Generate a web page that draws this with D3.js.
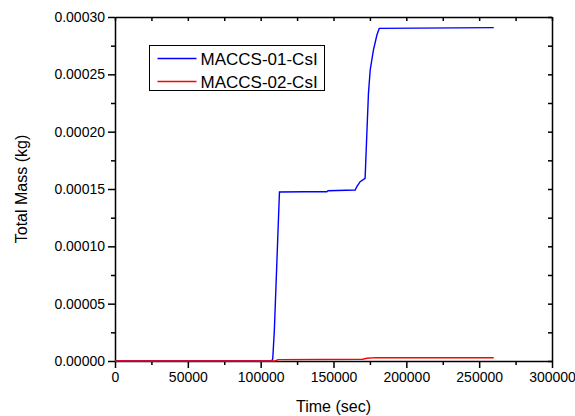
<!DOCTYPE html>
<html>
<head>
<meta charset="utf-8">
<script src="https://cdn.jsdelivr.net/npm/d3@7"></script>
<style>
  html, body { margin: 0; padding: 0; background: #fff; }
  svg { display: block; font-family: 'Liberation Sans', Arial, sans-serif; }
  .axis path, .axis line { stroke: #000; stroke-width: 1.5; }
  .axis text { font-size: 14px; fill: #000; }
</style>
</head>
<body>
<svg id="chart" width="575" height="416"></svg>
<script>
// ── DATA ────────────────────────────────────────────────────────────────
const seriesNames = ['MACCS-01-CsI', 'MACCS-02-CsI'];
const seriesColors = ['#0000ff', '#ff0000'];

const blueTime = [0, 107500, 108300, 109400, 112900, 130000, 145400, 146300, 164900,
                  166000, 168300, 171700, 172900, 174000, 175200, 177400, 179800, 181400, 260000];
const blueMass = [0, 0, 0.000002, 0.000027, 0.0001474, 0.0001476, 0.0001476, 0.0001485, 0.0001491,
                  0.000152, 0.0001564, 0.0001593, 0.0001986, 0.0002334, 0.0002538, 0.0002712,
                  0.0002843, 0.0002901, 0.0002907];

const redTime = [0, 110000, 112000, 170000, 173000, 179000, 260000];
const redMass = [0, 0, 0.0000012, 0.0000015, 0.0000024, 0.0000029, 0.0000029];

const xTicks = [0, 50000, 100000, 150000, 200000, 250000, 300000];
const xMinor = [25000, 75000, 125000, 175000, 225000, 275000];
const yTicks = [0, 0.00005, 0.0001, 0.00015, 0.0002, 0.00025, 0.0003];
const yMinor = [0.000025, 0.000075, 0.000125, 0.000175, 0.000225, 0.000275];

// ── CHART ───────────────────────────────────────────────────────────────
const margin = { top: 17, right: 23, bottom: 55, left: 115 };
const W = 575 - margin.left - margin.right;
const H = 416 - margin.top - margin.bottom;

const svg = d3.select('#chart');
const g = svg.append('g').attr('transform', `translate(${margin.left},${margin.top})`);

const x = d3.scaleLinear().domain([0, 300000]).range([0, W]);
const y = d3.scaleLinear().domain([0, 0.0003]).range([H, 0]);

// minor ticks
g.append('g').attr('class', 'axis').attr('transform', `translate(0,${H})`)
  .call(d3.axisBottom(x).tickValues(xMinor).tickSize(4).tickFormat(''))
  .call(a => a.select('.domain').remove());
g.append('g').attr('class', 'axis')
  .call(d3.axisLeft(y).tickValues(yMinor).tickSize(4).tickFormat(''))
  .call(a => a.select('.domain').remove());

// mirrored top / right, ticks inward
g.append('g').attr('class', 'axis')
  .call(d3.axisTop(x).tickValues(xTicks.concat(xMinor)).tickSize(-4).tickSizeOuter(0).tickFormat(''));
g.append('g').attr('class', 'axis').attr('transform', `translate(${W},0)`)
  .call(d3.axisRight(y).tickValues(yTicks.concat(yMinor)).tickSize(-4).tickSizeOuter(0).tickFormat(''));

// main axes
g.append('g').attr('class', 'axis').attr('transform', `translate(0,${H})`)
  .call(d3.axisBottom(x).tickValues(xTicks).tickSize(7).tickSizeOuter(0).tickPadding(4).tickFormat(d3.format('d')));
g.append('g').attr('class', 'axis')
  .call(d3.axisLeft(y).tickValues(yTicks).tickSize(7).tickSizeOuter(0).tickPadding(3).tickFormat(d3.format('.5f')));

// lines
const line = d3.line().x(d => x(d[0])).y(d => y(d[1]));
const series = [
  d3.zip(blueTime, blueMass),
  d3.zip(redTime, redMass)
];
series.forEach((s, i) => {
  g.append('path').datum(s)
    .attr('fill', 'none')
    .attr('stroke', seriesColors[i])
    .attr('stroke-width', 1.4)
    .attr('d', line);
});

// axis titles
svg.append('text')
  .attr('x', margin.left + W / 2).attr('y', 412)
  .attr('text-anchor', 'middle').attr('font-size', '16px')
  .text('Time (sec)');
svg.append('text')
  .attr('transform', `translate(27,${margin.top + H / 2}) rotate(-90)`)
  .attr('text-anchor', 'middle').attr('font-size', '16px')
  .text('Total Mass (kg)');

// legend
const leg = svg.append('g').attr('transform', 'translate(149.5,45.5)');
leg.append('rect').attr('width', 175).attr('height', 45)
  .attr('fill', '#fff').attr('stroke', '#000').attr('stroke-width', 1);
seriesNames.forEach((name, i) => {
  const ly = 13 + i * 23;
  leg.append('line').attr('x1', 8).attr('x2', 47).attr('y1', ly).attr('y2', ly)
    .attr('stroke', seriesColors[i]).attr('stroke-width', 1.4);
  leg.append('text').attr('x', 51).attr('y', ly + 6.5)
    .attr('font-size', '17px').text(name);
});
</script>
</body>
</html>
